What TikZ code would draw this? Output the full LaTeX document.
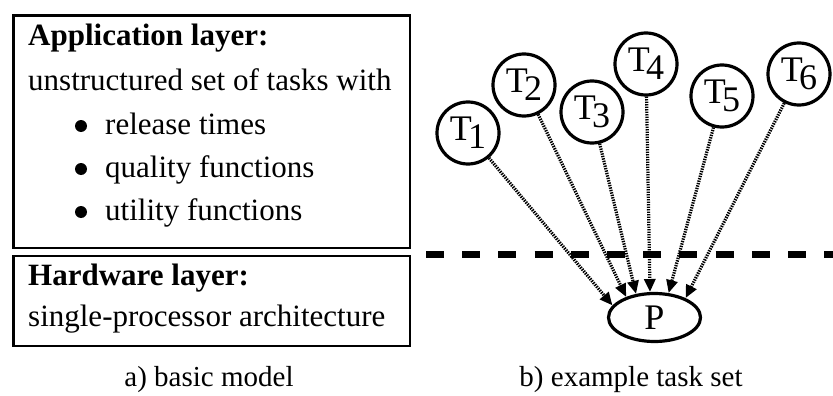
\documentclass[tikz,border=0pt]{standalone}
\usepackage{fontspec}
\setmainfont{Liberation Serif}
\usetikzlibrary{arrows.meta,shapes.geometric}
\tikzset{
  layerbox/.style={draw,line width=2.7pt,rectangle,inner sep=0,anchor=north west},
  txt/.style={anchor=base west,inner sep=0,font=\fontsize{31}{36}\selectfont},
  head/.style={anchor=base west,inner sep=0,font=\fontsize{31}{36}\selectfont\bfseries},
  dot/.style={circle,fill,inner sep=0,minimum size=12pt},
  task/.style={circle,draw,line width=3.2pt,minimum size=62pt,inner sep=0,
               font=\fontsize{36}{40}\selectfont},
  proc/.style={ellipse,draw,line width=3.2pt,minimum width=92pt,minimum height=48pt,
               inner sep=0,font=\fontsize{36}{40}\selectfont},
  dep/.style={line width=3.2pt,dash pattern=on 1.4pt off 1.1pt,
              -{Triangle[length=13pt,width=11pt]}},
  caption/.style={anchor=base,inner sep=0,font=\fontsize{29}{34}\selectfont},
  border/.style={line width=6.7pt,dash pattern=on 18pt off 18.2pt}
}
% task label: T with a lowered, tightly kerned index
\newcommand\tasklabel[1]{T\kern-0.1em\raisebox{-8pt}{#1}}
\begin{document}
\begin{tikzpicture}[x=1pt,y=-1pt]
  \useasboundingbox (0,0) rectangle (833,396);

  % a) layer model
  \node[layerbox,minimum width=396.5pt,minimum height=232pt] (app) at (12,14.5) {};
  \node[layerbox,minimum width=396.5pt,minimum height=90pt] (hw) at (12,254.5) {};

  \node[head] (apptitle) at (28,46) {Application layer:};
  \node[txt] (appdesc) at (28,91) {unstructured set of tasks with};
  \node[dot] (b1) at (81,126) {};
  \node[txt] (i1) at (105,134) {release times};
  \node[dot] (b2) at (81,169) {};
  \node[txt] (i2) at (105,177) {quality functions};
  \node[dot] (b3) at (81,212) {};
  \node[txt] (i3) at (105,220) {utility functions};

  \node[head] (hwtitle) at (28,285) {Hardware layer:};
  \node[txt] (hwdesc) at (28,326) {single-processor architecture};

  \node[caption] (capa) at (209,386) {a) basic model};

  % b) task set on one processor
  \coordinate (cutL) at (426,254.3);
  \coordinate (cutR) at (833,254.3);
  \draw[border] (cutL) -- (cutR);

  \node[task] (t1) at (468,133) {\tasklabel{1}};
  \node[task] (t2) at (524,85) {\tasklabel{2}};
  \node[task] (t3) at (592,112) {\tasklabel{3}};
  \node[task] (t4) at (646,64) {\tasklabel{4}};
  \node[task] (t5) at (722,96) {\tasklabel{5}};
  \node[task] (t6) at (799,74) {\tasklabel{6}};

  \node[proc] (p) at (654.5,317.5) {P};

  \draw[dep] (t1) -- (p.164);
  \draw[dep] (t2) -- (p.144);
  \draw[dep] (t3) -- (p.128);
  \draw[dep] (t4) -- (p.100);
  \draw[dep] (t5) -- (p.60);
  \draw[dep] (t6) -- (p.32);

  \node[caption] (capb) at (631,386) {b) example task set};
\end{tikzpicture}
\end{document}
